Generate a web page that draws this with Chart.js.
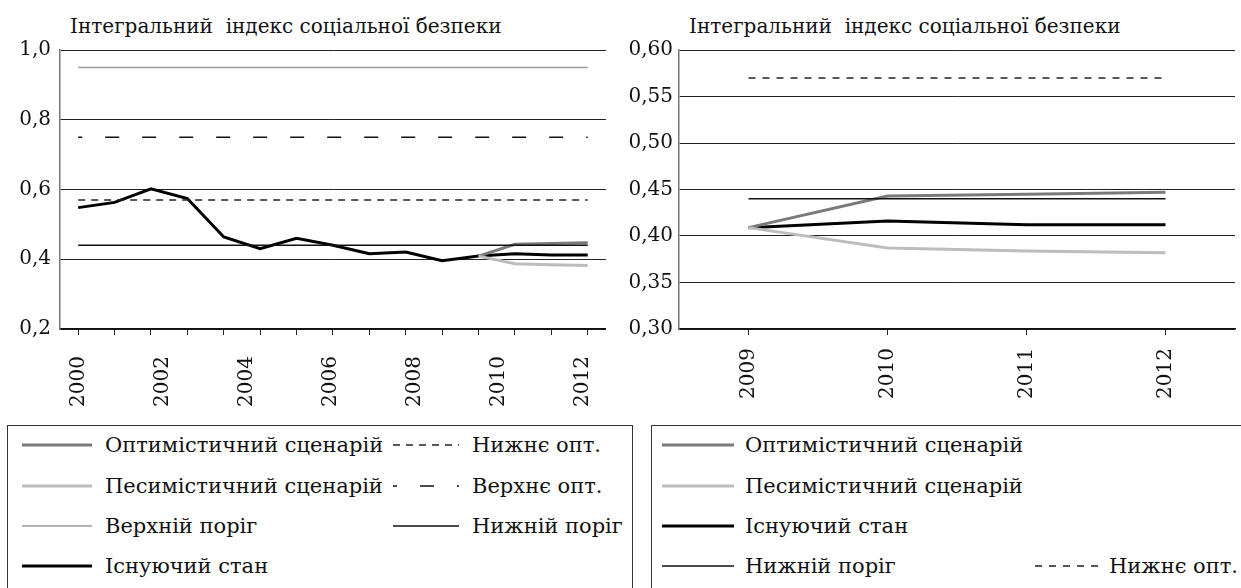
<!DOCTYPE html>
<html>
<head>
<meta charset="utf-8">
<script src="https://cdn.jsdelivr.net/npm/chart.js@4.4.1/dist/chart.umd.min.js"></script>
<style>
  body { margin: 0; width: 1241px; height: 588px; overflow: hidden; background: #fff; position: relative;
         font-family: "DejaVu Serif", serif; color: #111; }
  .wrap { position: absolute; top: 0; }
  #wrapLeft { left: 0; width: 620px; height: 420px; }
  #wrapRight { left: 620px; width: 621px; height: 420px; }
  .title { position: absolute; top: 14px; font-size: 20px; line-height: 24px; white-space: pre; }
  .box { position: absolute; top: 425px; height: 220px; border: 1px solid #333; box-sizing: border-box; }
  .item { position: absolute; font-size: 21px; line-height: 24px; white-space: nowrap; }
  .sw { position: absolute; }
</style>
</head>
<body>
<div class="title" style="left:70px">Інтегральний  індекс соціальної безпеки</div>
<div class="title" style="left:689px">Інтегральний  індекс соціальної безпеки</div>
<div class="wrap" id="wrapLeft"><canvas id="chartLeft" width="620" height="420"></canvas></div>
<div class="wrap" id="wrapRight"><canvas id="chartRight" width="621" height="420"></canvas></div>
<div class="box" id="legendLeft" style="left:7px;width:626px"></div>
<div class="box" id="legendRight" style="left:651px;width:600px"></div>

<script>
// left chart: 15 points, labelled every two years
let leftPeriods = ['1', '2', '3', '4', '5', '6', '7', '8', '9', '10', '11', '12', '13', '14', '15'];
let leftYears = [2000, 2002, 2004, 2006, 2008, 2010, 2012];
let leftTicks = [0.2, 0.4, 0.6, 0.8, 1.0];
let leftExisting = [0.548, 0.563, 0.602, 0.574, 0.464, 0.430, 0.460, 0.440, 0.416, 0.421, 0.396, 0.409, 0.416, 0.412, 0.412];
let leftOptimistic = [null, null, null, null, null, null, null, null, null, null, null, 0.409, 0.443, 0.445, 0.447];
let leftPessimistic = [null, null, null, null, null, null, null, null, null, null, null, 0.409, 0.387, 0.384, 0.382];
let leftUpperThreshold = [0.95, 0.95, 0.95, 0.95, 0.95, 0.95, 0.95, 0.95, 0.95, 0.95, 0.95, 0.95, 0.95, 0.95, 0.95];
let leftLowerThreshold = [0.44, 0.44, 0.44, 0.44, 0.44, 0.44, 0.44, 0.44, 0.44, 0.44, 0.44, 0.44, 0.44, 0.44, 0.44];
let leftUpperOpt = [0.75, 0.75, 0.75, 0.75, 0.75, 0.75, 0.75, 0.75, 0.75, 0.75, 0.75, 0.75, 0.75, 0.75, 0.75];
let leftLowerOpt = [0.57, 0.57, 0.57, 0.57, 0.57, 0.57, 0.57, 0.57, 0.57, 0.57, 0.57, 0.57, 0.57, 0.57, 0.57];

// right chart: 2009-2012
let rightYears = ['2009', '2010', '2011', '2012'];
let rightTicks = [0.30, 0.35, 0.40, 0.45, 0.50, 0.55, 0.60];
let rightOptimistic = [0.409, 0.443, 0.445, 0.447];
let rightPessimistic = [0.409, 0.387, 0.384, 0.382];
let rightExisting = [0.409, 0.416, 0.412, 0.412];
let rightLowerThreshold = [0.44, 0.44, 0.44, 0.44];
let rightLowerOpt = [0.57, 0.57, 0.57, 0.57];

// line styles
let styles = {
  optimistic: { color: '#7a7a7a', width: 3, dash: [] },
  pessimistic: { color: '#bdbdbd', width: 3, dash: [] },
  existing: { color: '#000', width: 3, dash: [] },
  upperThreshold: { color: '#9a9a9a', width: 1.5, dash: [] },
  lowerThreshold: { color: '#111', width: 1.5, dash: [] },
  upperOpt: { color: '#111', width: 1.5, dash: [14, 23], offset: 10 },
  lowerOpt: { color: '#222', width: 1.5, dash: [7, 6] },
  lowerOptRight: { color: '#222', width: 1.5, dash: [7, 7] }
};

let font = { family: "'DejaVu Serif', serif", size: 20 };

function makeLine(label, data, style) {
  return {
    label: label,
    data: data,
    borderColor: style.color,
    borderWidth: style.width,
    borderDash: style.dash,
    borderDashOffset: style.offset || 0,
    pointRadius: 0,
    tension: 0,
    fill: false
  };
}

function yAxis(ticks, digits, width, pad) {
  return {
    min: ticks[0],
    max: ticks[ticks.length - 1],
    afterBuildTicks: function(axis) { axis.ticks = ticks.map(v => ({ value: v })); },
    afterFit: function(axis) { axis.width = width; },
    border: { color: '#777', width: 1.5 },
    grid: { color: '#222', lineWidth: 1, drawTicks: false },
    ticks: { color: '#111', font: font, padding: pad, callback: v => v.toFixed(digits).replace('.', ',') }
  };
}

let leftData = [
  makeLine('Верхній поріг', leftUpperThreshold, styles.upperThreshold),
  makeLine('Верхнє опт.', leftUpperOpt, styles.upperOpt),
  makeLine('Нижнє опт.', leftLowerOpt, styles.lowerOpt),
  makeLine('Нижній поріг', leftLowerThreshold, styles.lowerThreshold),
  makeLine('Песимістичний сценарій', leftPessimistic, styles.pessimistic),
  makeLine('Оптимістичний сценарій', leftOptimistic, styles.optimistic),
  makeLine('Існуючий стан', leftExisting, styles.existing)
];

let chartLeft = new Chart(document.getElementById('chartLeft'), {
  type: 'line',
  data: { labels: leftPeriods, datasets: leftData },
  options: {
    responsive: false,
    animation: false,
    devicePixelRatio: 1,
    layout: { padding: { top: 50, right: 6, left: 0, bottom: 0 } },
    plugins: { legend: { display: false }, tooltip: { enabled: false } },
    scales: {
      x: {
        type: 'category',
        offset: true,
        weight: 0,
        afterFit: function(axis) { axis.height = 6; },
        border: { color: '#111', width: 1.5 },
        grid: { drawOnChartArea: false, offset: false, tickLength: 6, color: '#222' },
        ticks: { display: false }
      },
      years: {
        type: 'linear',
        position: 'bottom',
        weight: 1,
        min: 1999.56,
        max: 2012.56,
        afterBuildTicks: function(axis) { axis.ticks = leftYears.map(v => ({ value: v })); },
        afterFit: function(axis) { axis.height = 85; },
        border: { display: false },
        grid: { display: false },
        ticks: { color: '#111', font: font, padding: 13, minRotation: 90, maxRotation: 90, callback: v => String(v) }
      },
      y: yAxis(leftTicks, 1, 60, 9)
    }
  }
});

let rightData = [
  makeLine('Нижнє опт.', rightLowerOpt, styles.lowerOptRight),
  makeLine('Нижній поріг', rightLowerThreshold, styles.lowerThreshold),
  makeLine('Песимістичний сценарій', rightPessimistic, styles.pessimistic),
  makeLine('Оптимістичний сценарій', rightOptimistic, styles.optimistic),
  makeLine('Існуючий стан', rightExisting, styles.existing)
];

let chartRight = new Chart(document.getElementById('chartRight'), {
  type: 'line',
  data: { labels: rightYears, datasets: rightData },
  options: {
    responsive: false,
    animation: false,
    devicePixelRatio: 1,
    layout: { padding: { top: 50, right: 6, left: 0, bottom: 0 } },
    plugins: { legend: { display: false }, tooltip: { enabled: false } },
    scales: {
      x: {
        type: 'category',
        offset: true,
        afterFit: function(axis) { axis.height = 91; },
        border: { color: '#111', width: 1.5 },
        grid: { drawOnChartArea: false, offset: false, tickLength: 6, color: '#222' },
        ticks: { color: '#111', font: font, padding: 13, minRotation: 90, maxRotation: 90 }
      },
      y: yAxis(rightTicks, 2, 59, 6)
    }
  }
});

// html legends, swatches take the dataset styles
function findSet(chart, label) {
  return chart.data.datasets.find(d => d.label === label);
}

function addItem(box, boxLeft, set, swX, swW, textX, rowY) {
  let ns = 'http://www.w3.org/2000/svg';
  let svg = document.createElementNS(ns, 'svg');
  svg.setAttribute('width', swW);
  svg.setAttribute('height', 10);
  svg.setAttribute('class', 'sw');
  svg.style.left = (swX - boxLeft) + 'px';
  svg.style.top = (rowY - 425 - 5) + 'px';
  let line = document.createElementNS(ns, 'line');
  line.setAttribute('x1', 0);
  line.setAttribute('x2', swW);
  line.setAttribute('y1', 5);
  line.setAttribute('y2', 5);
  line.setAttribute('stroke', set.borderColor);
  line.setAttribute('stroke-width', set.borderWidth);
  if (set.borderDash.length) {
    line.setAttribute('stroke-dasharray', set.borderDash.join(' '));
    line.setAttribute('stroke-dashoffset', set.borderDashOffset);
  }
  svg.appendChild(line);
  box.appendChild(svg);

  let div = document.createElement('div');
  div.className = 'item';
  div.textContent = set.label;
  div.style.left = (textX - boxLeft) + 'px';
  div.style.top = (rowY - 425 - 12) + 'px';
  box.appendChild(div);
}

let rows = [444, 484.5, 525, 565];

let legendLeft = document.getElementById('legendLeft');
let leftItems = [
  ['Оптимістичний сценарій', 22, 70, 105, 0],
  ['Нижнє опт.', 393, 66, 472, 0],
  ['Песимістичний сценарій', 22, 70, 105, 1],
  ['Верхнє опт.', 393, 66, 472, 1],
  ['Верхній поріг', 22, 70, 105, 2],
  ['Нижній поріг', 393, 66, 472, 2],
  ['Існуючий стан', 22, 70, 105, 3]
];
leftItems.forEach(it => addItem(legendLeft, 8, findSet(chartLeft, it[0]), it[1], it[2], it[3], rows[it[4]]));

let legendRight = document.getElementById('legendRight');
let rightItems = [
  ['Оптимістичний сценарій', 662, 72, 745, 0],
  ['Песимістичний сценарій', 662, 72, 745, 1],
  ['Існуючий стан', 662, 72, 745, 2],
  ['Нижній поріг', 662, 72, 745, 3],
  ['Нижнє опт.', 1035, 66, 1109, 3]
];
rightItems.forEach(it => addItem(legendRight, 652, findSet(chartRight, it[0]), it[1], it[2], it[3], rows[it[4]]));
</script>
</body>
</html>
